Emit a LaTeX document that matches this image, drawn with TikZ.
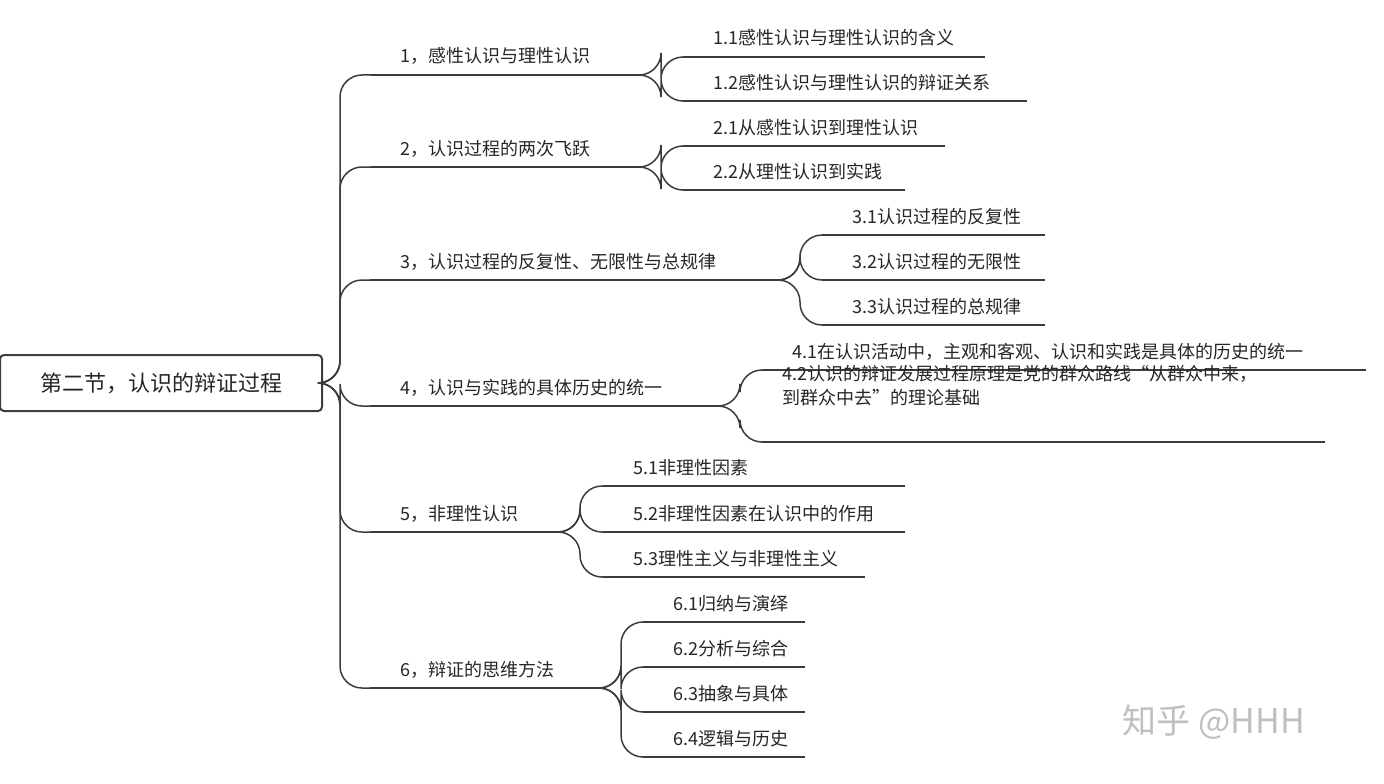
\documentclass[tikz,border=0pt]{standalone}
\usepackage{fontspec}
\newfontfamily\cjk{Noto Sans CJK SC}
\usetikzlibrary{calc}
\definecolor{linegray}{RGB}{60,60,60}
\begin{document}
\begin{tikzpicture}[x=1pt,y=-1pt,line width=1.5pt,draw=linegray,
                    every node/.style={font=\cjk\fontsize{18}{24}\selectfont,text=black!85,inner sep=0pt},
                    link/.style={draw=linegray,rounded corners=22pt}]
  \useasboundingbox (0,0) rectangle (1384,784);
  % topic: name, x start, underline y, x end, text
  \newcommand{\topic}[5]{%
    \coordinate (#1-s) at (#2,#3);
    \coordinate (#1-e) at (#4,#3);
    \draw[linegray] (#1-s) -- (#1-e);
    \node[anchor=base west] (#1) at ($(#1-s)+(30,-12)$) {#5};}
  \newcommand{\joint}[2]{%
    \draw[link] (#1-e) -- ++(18,0) |- (#2-s);}

  \node[draw=linegray,line width=2pt,rounded corners=4pt,minimum width=322,minimum height=56,
        font=\cjk\fontsize{22}{26}\selectfont] (root) at (161,383) {第二节，认识的辩证过程};
  \coordinate (root-e) at (322,383);

  \topic{a}{370}{75}{643}{1，感性认识与理性认识}
  \topic{b}{370}{167}{643}{2，认识过程的两次飞跃}
  \topic{c}{370}{280}{782}{3，认识过程的反复性、无限性与总规律}
  \topic{d}{370}{406}{722}{4，认识与实践的具体历史的统一}
  \topic{e}{370}{532}{562}{5，非理性认识}
  \topic{f}{370}{688}{603}{6，辩证的思维方法}
  \foreach \n in {a,b,c,d,e,f} {\joint{root}{\n}}

  \topic{a1}{683}{57}{985}{1.1感性认识与理性认识的含义}
  \topic{a2}{683}{101}{1027}{1.2感性认识与理性认识的辩证关系}
  \topic{b1}{683}{146}{945}{2.1从感性认识到理性认识}
  \topic{b2}{683}{190}{905}{2.2从理性认识到实践}
  \topic{c1}{822}{235}{1045}{3.1认识过程的反复性}
  \topic{c2}{822}{280}{1045}{3.2认识过程的无限性}
  \topic{c3}{822}{325}{1045}{3.3认识过程的总规律}
  \topic{d1}{762}{370}{1366}{4.1在认识活动中，主观和客观、认识和实践是具体的历史的统一}
  \coordinate (d2-s) at (762,442);
  \coordinate (d2-e) at (1325,442);
  \draw (d2-s) -- (d2-e);
  \node[anchor=base west,align=left] (d2) at (782,404)
    {4.2认识的辩证发展过程原理是党的群众路线“从群众中来，\\到群众中去”的理论基础};
  \topic{e1}{603}{486}{905}{5.1非理性因素}
  \topic{e2}{603}{532}{905}{5.2非理性因素在认识中的作用}
  \topic{e3}{603}{577}{865}{5.3理性主义与非理性主义}
  \topic{f1}{643}{622}{805}{6.1归纳与演绎}
  \topic{f2}{643}{667}{805}{6.2分析与综合}
  \topic{f3}{643}{712}{805}{6.3抽象与具体}
  \topic{f4}{643}{757}{805}{6.4逻辑与历史}

  \foreach \n in {a1,a2} {\joint{a}{\n}}
  \foreach \n in {b1,b2} {\joint{b}{\n}}
  \foreach \n in {c1,c2,c3} {\joint{c}{\n}}
  \foreach \n in {d1,d2} {\joint{d}{\n}}
  \foreach \n in {e1,e2,e3} {\joint{e}{\n}}
  \foreach \n in {f1,f2,f3,f4} {\joint{f}{\n}}

  \node[anchor=west,text=black!25,font=\cjk\fontsize{34}{40}\selectfont] (mark) at (1122,722) {知乎 @HHH};
\end{tikzpicture}
\end{document}
